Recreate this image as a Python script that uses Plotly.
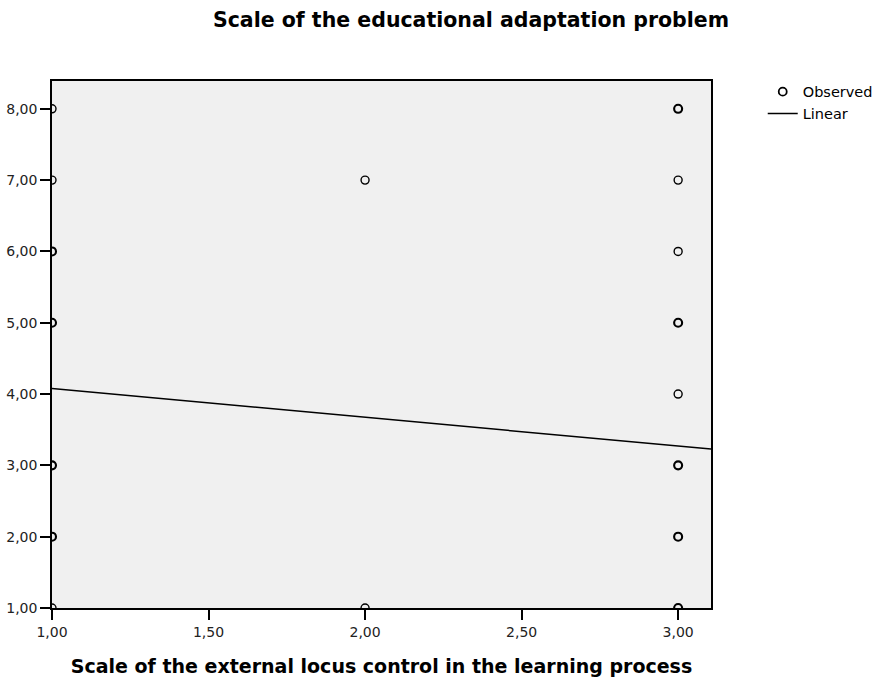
import plotly.graph_objects as go

# Observed scores: external locus control (x) vs educational adaptation problem (y)
x_obs = [1, 1, 1, 1, 1, 1, 1,
         2, 2,
         3, 3, 3, 3, 3, 3, 3, 3]
y_obs = [8, 7, 6, 5, 3, 2, 1,
         7, 1,
         8, 7, 6, 5, 4, 3, 2, 1]
# number of overlapping cases at each position (overlaps drawn heavier)
n_cases = [1, 1, 2, 2, 2, 2, 1,
           1, 1,
           2, 1, 1, 2, 1, 2, 2, 2]

# Linear fit estimates
fit_intercept = 4.48
fit_slope = -0.403

x_range = [1.0, 3.105]
y_range = [1.0, 8.39]
x_ticks = [1.0, 1.5, 2.0, 2.5, 3.0]
y_ticks = [1, 2, 3, 4, 5, 6, 7, 8]

fit_x = x_range
fit_y = [fit_intercept + fit_slope * v for v in fit_x]

font = "DejaVu Sans, Arial, sans-serif"

fig = go.Figure()
fig.add_trace(go.Scatter(
    x=x_obs, y=y_obs, mode="markers", name="Observed",
    marker=dict(symbol="circle-open", size=8, color="black",
                line=dict(color="black", width=[1.4 if n == 1 else 2.1 for n in n_cases])),
))
fig.add_trace(go.Scatter(
    x=fit_x, y=fit_y, mode="lines", name="Linear",
    line=dict(color="black", width=1.5),
))

axis_common = dict(
    showgrid=False, zeroline=False, showline=True, linecolor="black", linewidth=1.5,
    mirror=True, ticks="outside", ticklen=10, tickwidth=1.5, tickcolor="black",
    tickfont=dict(family=font, size=14, color="#222"), tickformat=".2f",
    automargin=False,
)

fig.update_layout(
    width=876, height=679,
    margin=dict(l=52, r=165, t=81, b=71, autoexpand=False),
    paper_bgcolor="white", plot_bgcolor="#f0f0f0",
    separators=",.",
    font=dict(family=font, color="black"),
    title=dict(text="<b>Scale of the educational adaptation problem</b>",
               x=471 / 876, xanchor="center", y=1 - 20 / 679, yanchor="middle",
               font=dict(family=font, size=20.5, color="black")),
    xaxis=dict(range=x_range, tickvals=x_ticks, **axis_common,
               title=dict(text="<b>Scale of the external locus control in the learning process</b>",
                          font=dict(family=font, size=19, color="black"), standoff=21)),
    yaxis=dict(range=y_range, tickvals=y_ticks, **axis_common),
    legend=dict(x=1.0785, xanchor="left", y=1.01, yanchor="top",
                font=dict(family=font, size=14.5, color="black"),
                bgcolor="rgba(0,0,0,0)"),
)

fig.write_html("out.html")
